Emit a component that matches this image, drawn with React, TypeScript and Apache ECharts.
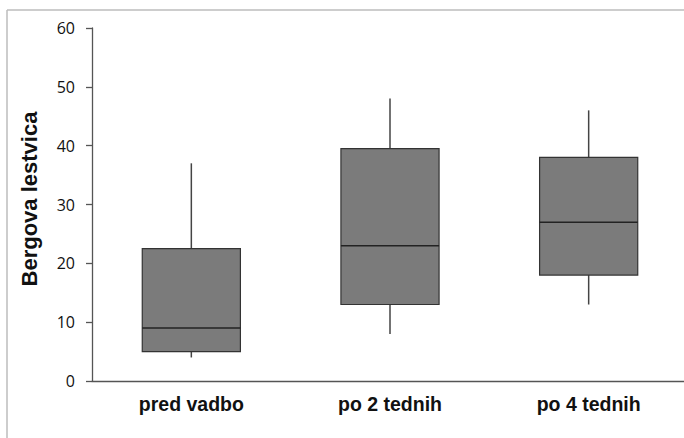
import React, { useEffect, useRef } from "react";
import * as echarts from "echarts";

const categories = ["pred vadbo", "po 2 tednih", "po 4 tednih"];
const minValues = [4, 8, 13];
const q1Values = [5, 13, 18];
const medianValues = [9, 23, 27];
const q3Values = [22.5, 39.5, 38];
const maxValues = [37, 48, 46];
const yAxisTitle = "Bergova lestvica";

export default function App() {
  const ref = useRef<HTMLDivElement>(null);

  useEffect(() => {
    const chart = echarts.init(ref.current!, null, { renderer: "svg" });
    const data = categories.map((_, i) => [
      i,
      minValues[i],
      q1Values[i],
      medianValues[i],
      q3Values[i],
      maxValues[i],
    ]);

    const renderItem = (params: any, api: any) => {
      const idx = api.value(0);
      const bandW = api.size([1, 0])[0];
      const half = bandW * 0.247;
      const pMin = api.coord([idx, api.value(1)]);
      const pQ1 = api.coord([idx, api.value(2)]);
      const pMed = api.coord([idx, api.value(3)]);
      const pQ3 = api.coord([idx, api.value(4)]);
      const pMax = api.coord([idx, api.value(5)]);
      const cx = pMin[0];
      const whisker = { stroke: "#444", lineWidth: 1.5 };
      return {
        type: "group",
        children: [
          { type: "line", shape: { x1: cx, y1: pMax[1], x2: cx, y2: pQ3[1] }, style: whisker },
          { type: "line", shape: { x1: cx, y1: pQ1[1], x2: cx, y2: pMin[1] }, style: whisker },
          {
            type: "rect",
            shape: { x: cx - half, y: pQ3[1], width: half * 2, height: pQ1[1] - pQ3[1] },
            style: { fill: "#7b7b7b", stroke: "#333", lineWidth: 1.2 },
          },
          {
            type: "line",
            shape: { x1: cx - half, y1: pMed[1], x2: cx + half, y2: pMed[1] },
            style: { stroke: "#222", lineWidth: 1.5 },
          },
        ],
      };
    };

    chart.setOption({
      animation: false,
      grid: {
        left: 92,
        right: -4,
        top: 28,
        bottom: 57,
        containLabel: false,
        outerBoundsMode: "none",
      },
      xAxis: {
        type: "category",
        data: categories,
        axisTick: { show: false },
        axisLine: { lineStyle: { color: "#555", width: 1.3 } },
        axisLabel: {
          margin: 13,
          fontFamily: "Liberation Sans",
          fontWeight: "bold",
          fontSize: 19.5,
          color: "#111",
        },
        splitLine: { show: false },
      },
      yAxis: {
        type: "value",
        min: 0,
        max: 60,
        interval: 10,
        axisLine: { show: true, lineStyle: { color: "#555", width: 1.3 } },
        axisTick: { show: true, length: 6, lineStyle: { color: "#555", width: 1.3 } },
        axisLabel: {
          margin: 17,
          fontFamily: "Open Sans",
          fontSize: 16,
          color: "#111",
        },
        splitLine: { show: false },
      },
      graphic: [
        {
          type: "line",
          silent: true,
          z: -10,
          shape: { x1: 7, y1: 10, x2: 7, y2: 520 },
          style: { stroke: "#bcbcbc", lineWidth: 1.5 },
        },
        {
          type: "line",
          silent: true,
          z: -10,
          shape: { x1: 7, y1: 10, x2: 684, y2: 10 },
          style: { stroke: "#bcbcbc", lineWidth: 1.5 },
        },
        {
          type: "text",
          x: 29,
          y: 199,
          rotation: Math.PI / 2,
          style: {
            text: yAxisTitle,
            fontFamily: "Liberation Sans",
            fontWeight: "bold",
            fontSize: 22,
            fill: "#111",
            align: "center",
            verticalAlign: "middle",
          },
        },
      ],
      series: [
        {
          type: "custom",
          renderItem,
          data,
          encode: { x: 0, y: [1, 2, 3, 4, 5] },
        },
      ],
    });

    return () => chart.dispose();
  }, []);

  return (
    <div
      ref={ref}
      style={{ position: "absolute", left: 0, top: 0, width: 684, height: 438 }}
    />
  );
}
